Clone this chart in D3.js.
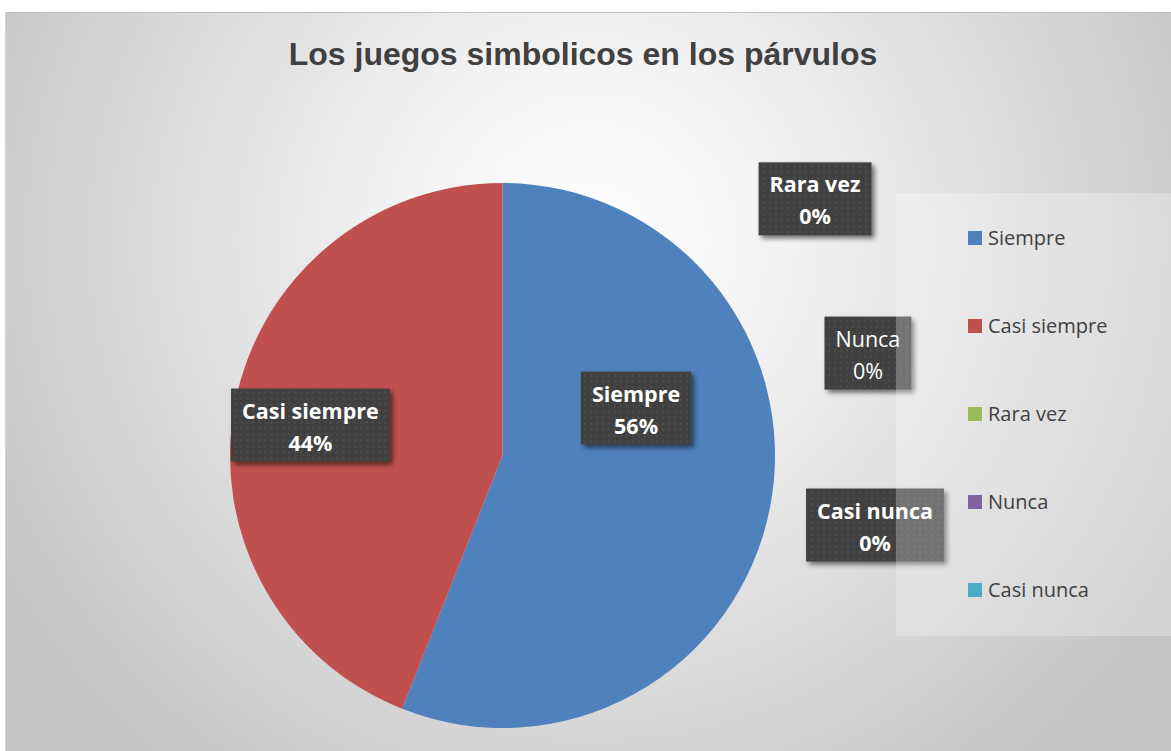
<!DOCTYPE html>
<html><head><meta charset="utf-8">
<script src="https://cdn.jsdelivr.net/npm/d3@7"></script>
<style>html,body{margin:0;padding:0;background:#fff;}svg{display:block;}</style>
</head><body>
<script>
const title = "Los juegos simbolicos en los párvulos";
const categories = ["Siempre", "Casi siempre", "Rara vez", "Nunca", "Casi nunca"];
const values = [56, 44, 0, 0, 0];
const colors = ["#4F81BD", "#C0504D", "#9BBB59", "#8064A2", "#4BACC6"];
const boldLabel = [true, true, true, false, true];

const W = 1171, H = 751;
const svg = d3.select("body").append("svg").attr("width", W).attr("height", H);
const defs = svg.append("defs");

const bg = defs.append("radialGradient").attr("id", "bg")
  .attr("gradientUnits", "userSpaceOnUse")
  .attr("cx", 590).attr("cy", 240).attr("r", 690);
bg.append("stop").attr("offset", "0").attr("stop-color", "#ffffff");
bg.append("stop").attr("offset", "0.3").attr("stop-color", "#f1f1f1");
bg.append("stop").attr("offset", "1").attr("stop-color", "#c3c3c3");

const pat = defs.append("pattern").attr("id", "dots").attr("patternUnits", "userSpaceOnUse")
  .attr("width", 6).attr("height", 6);
pat.append("rect").attr("width", 6).attr("height", 6).attr("fill", "#404040");
pat.append("rect").attr("x", 2).attr("y", 2).attr("width", 2).attr("height", 2).attr("fill", "#4d4d4d");

const sh = defs.append("filter").attr("id", "shadow").attr("x", "-20%").attr("y", "-20%").attr("width", "150%").attr("height", "160%");
sh.append("feGaussianBlur").attr("in", "SourceAlpha").attr("stdDeviation", 2.5).attr("result", "b");
sh.append("feOffset").attr("in", "b").attr("dx", 3).attr("dy", 3).attr("result", "o");
sh.append("feComponentTransfer").attr("in", "o").attr("result", "o2")
  .append("feFuncA").attr("type", "linear").attr("slope", 0.55);
const m = sh.append("feMerge");
m.append("feMergeNode").attr("in", "o2");
m.append("feMergeNode").attr("in", "SourceGraphic");

// chart area
svg.append("rect").attr("x", 5).attr("y", 12).attr("width", W - 5).attr("height", H - 12)
  .attr("fill", "url(#bg)");
svg.append("line").attr("x1", 5).attr("x2", W).attr("y1", 12.5).attr("y2", 12.5).attr("stroke", "#bdbdbd");
svg.append("line").attr("x1", 5.5).attr("x2", 5.5).attr("y1", 12).attr("y2", H).attr("stroke", "#d4d4d4");

// title
svg.append("text").attr("x", 583).attr("y", 65).attr("text-anchor", "middle")
  .attr("font-family", "Liberation Sans, Arial, sans-serif").attr("font-weight", "bold")
  .attr("font-size", 32).attr("fill", "#404040").text(title);

// pie
const cx = 502.5, cy = 455.5, R = 272.5;
const pie = d3.pie().sort(null).value(d => d)(values);
const arc = d3.arc().innerRadius(0).outerRadius(R);
const g = svg.append("g").attr("transform", `translate(${cx},${cy})`);
g.selectAll("path").data(pie).join("path")
  .attr("d", arc).attr("fill", (d, i) => colors[i]);

// data labels (positions relative to pie center, in units of radius)
const labelPos = [[0.49, -0.172], [-0.705, -0.11], [1.147, -0.94], [1.341, -0.374], [1.367, 0.257]];
const pctFmt = d3.format(".0%");
const total = d3.sum(values);
const lab = svg.append("g");
categories.forEach((c, i) => {
  const x = cx + labelPos[i][0] * R, y = cy + labelPos[i][1] * R;
  const gg = lab.append("g").attr("transform", `translate(${x},${y})`);
  const fs = 21.5;
  const t = gg.append("text").attr("text-anchor", "middle")
    .attr("font-family", "Open Sans, sans-serif").attr("font-weight", boldLabel[i] ? "bold" : "normal")
    .attr("font-size", fs).attr("fill", "#ffffff");
  t.append("tspan").attr("x", 0).attr("y", -7).text(c);
  t.append("tspan").attr("x", 0).attr("y", 25).text(pctFmt(values[i] / total));
  const bw = t.node().getBBox().width + 22;
  gg.insert("rect", "text").attr("x", -bw / 2).attr("y", -37).attr("width", bw).attr("height", 73)
    .attr("fill", "url(#dots)").attr("filter", "url(#shadow)");
});

// legend
const lx = 896, ly = 193, lw = W - 896, lh = 443;
svg.append("rect").attr("x", lx).attr("y", ly).attr("width", lw).attr("height", lh)
  .attr("fill", "#ffffff").attr("fill-opacity", 0.27);
const leg = svg.append("g");
const step = 88;
categories.forEach((c, i) => {
  const y = 238 + i * step;
  leg.append("rect").attr("x", 968).attr("y", y - 7).attr("width", 14).attr("height", 14).attr("fill", colors[i]);
  leg.append("text").attr("x", 988).attr("y", y + 7)
    .attr("font-family", "Open Sans, sans-serif").attr("font-size", 20).attr("fill", "#404040").text(c);
});
</script>
</body></html>
